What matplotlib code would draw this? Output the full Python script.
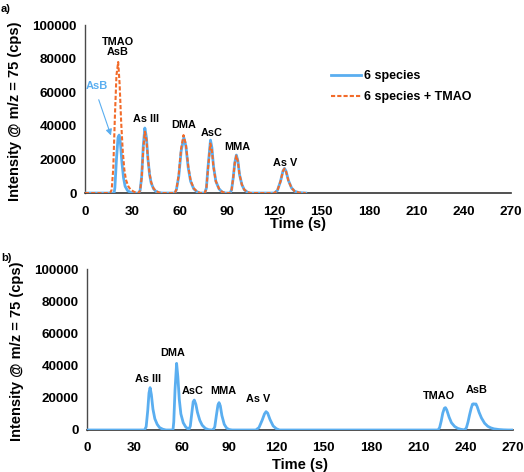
import matplotlib
matplotlib.use("Agg")
import matplotlib.pyplot as plt

plt.rcParams['font.family'] = ['Liberation Sans', 'DejaVu Sans']
plt.rcParams['font.weight'] = 'bold'

BLUE = '#5aaef0'
ORANGE = '#f26b2a'

# panel a) 6 species (time s, intensity cps)
a_blue_t = [0, 18.5, 19, 20, 21, 21.7, 22.5, 23.5, 24.5, 25.5, 27, 29, 31,
            34, 35, 36, 37, 38, 39, 40, 41, 42, 43.5, 45, 47, 49,
            57, 58, 59.5, 61, 62.7, 64, 65.5, 67, 69, 71, 73,
            76, 77, 78, 79.6, 80.5, 81.5, 83, 85, 87, 89,
            92, 93, 94, 95, 96, 97, 98, 99.5, 101, 103, 105,
            120, 122, 124, 125.5, 126.5, 127.5, 129, 131, 133, 136, 140]
a_blue_i = [0, 0, 3000, 20000, 33000, 34500, 30000, 18000, 9000, 4000, 1500, 300, 0,
            0, 1500, 10000, 28000, 38700, 33000, 20000, 11000, 6000, 2500, 1000, 200, 0,
            0, 2000, 10000, 25000, 33000, 28000, 15000, 7000, 2500, 800, 0,
            0, 3000, 15000, 31500, 27000, 16000, 7000, 2500, 600, 0,
            0, 2000, 9000, 18000, 22600, 19000, 11000, 5000, 2000, 500, 0,
            0, 1500, 7000, 13000, 14700, 13000, 7500, 3000, 1000, 200, 0]

# panel a) 6 species + TMAO
a_orng_t = [0, 16, 17, 18, 19, 20, 21.1, 22, 23, 24, 25, 26, 27.5, 29, 31, 33,
            34, 35, 36, 37, 38, 39, 40, 41, 42, 43.5, 45, 47, 49,
            57, 58, 59.5, 61, 62.5, 64, 65.5, 67, 69, 71, 73,
            76, 77, 78, 79.5, 80.5, 81.5, 83, 85, 87, 89,
            92, 93, 94, 95, 96, 97, 98, 99.5, 101, 103, 105,
            120, 122, 124, 125.5, 126.5, 127.5, 129, 131, 133, 136, 140]
a_orng_i = [0, 0, 2000, 15000, 45000, 70000, 78000, 65000, 42000, 25000, 14000, 8000, 4000, 2000, 800, 0,
            0, 1500, 9000, 26000, 36500, 32000, 20000, 11500, 6500, 2800, 1200, 300, 0,
            0, 2200, 11000, 26500, 34500, 29000, 16000, 7500, 2800, 900, 0,
            0, 2800, 14000, 29500, 25500, 15500, 7000, 2600, 700, 0,
            0, 2000, 9000, 18000, 22300, 18800, 11000, 5000, 2000, 500, 0,
            0, 1500, 7000, 13000, 14500, 12800, 7300, 3000, 1000, 200, 0]

# panel b) 6 species + TMAO, second method
b_t = [0, 36.5, 37.5, 38.5, 39.3, 40, 40.8, 41.8, 43, 44.5, 46, 48, 50,
       54.5, 55, 55.8, 56.8, 57.6, 58.5, 59.5, 61, 62.5, 64, 64.5,
       65.5, 66.5, 67.3, 68, 69, 70, 71.5, 73, 75, 77, 79,
       80, 81, 82, 83, 83.7, 84.5, 85.5, 87, 88.5, 90, 92,
       107, 109, 111, 112.5, 113.5, 114.5, 116, 118, 120, 122,
       222.5, 223.5, 224.5, 225.5, 226.5, 227.2, 228, 229.5, 231, 233, 235, 237, 239,
       239.5, 240.5, 241.5, 242.5, 243.5, 244.3, 245, 245.8, 246.5, 247.3, 248.5, 250,
       252, 254, 256, 258, 261, 264, 267, 270]
b_i = [0, 0, 2000, 12000, 23000, 26300, 22000, 13000, 7000, 3500, 1500, 500, 0,
       0, 5000, 25000, 41400, 33000, 19000, 10000, 4500, 2000, 600, 0,
       2500, 11000, 17500, 18600, 16000, 11000, 6000, 3000, 1000, 200, 0,
       0, 2000, 9000, 15500, 17000, 15000, 9000, 3500, 1200, 300, 0,
       0, 1500, 6000, 10000, 11400, 10500, 6500, 2500, 800, 0,
       0, 1500, 5500, 10500, 13500, 13900, 12500, 8000, 4500, 2200, 1000, 400, 100,
       0, 1500, 5000, 9500, 13500, 16000, 16300, 16000, 16200, 14500, 11000, 7500,
       4200, 2300, 1300, 700, 300, 100, 0, 0]

a_labels = ['TMAO\nAsB', 'As III', 'DMA', 'AsC', 'MMA', 'As V']
a_label_t = [20.9, 38.7, 62.7, 80.5, 96.3, 126.7]
a_label_i = [86900, 44000, 40500, 35700, 27400, 17900]

b_labels = ['As III', 'DMA', 'AsC', 'MMA', 'As V', 'TMAO', 'AsB']
b_label_t = [38.7, 54.5, 67.2, 86.2, 108.4, 223, 247]
b_label_i = [31900, 47800, 24200, 24200, 19300, 21100, 24800]

xticks = list(range(0, 271, 30))
yticks = list(range(0, 100001, 20000))


def style_axis(ax, xlabel_y, ylabel_y):
    ax.set_xlim(0, 270)
    ax.set_ylim(0, 100000)
    ax.set_xticks(xticks)
    ax.set_yticks(yticks)
    ax.tick_params(length=0, labelsize=9.7)
    ax.tick_params(axis='x', pad=9)
    ax.tick_params(axis='y', pad=6)
    for lab in ax.get_xticklabels() + ax.get_yticklabels():
        lab.set_fontweight('bold')
    ax.spines['top'].set_visible(False)
    ax.spines['right'].set_visible(False)
    ax.spines['left'].set_color('#4a4a4a')
    ax.spines['bottom'].set_color('#333333')
    ax.spines['left'].set_linewidth(1.0)
    ax.spines['bottom'].set_linewidth(1.2)
    ax.set_xlabel('Time (s)', fontsize=10.5, fontweight='bold')
    ax.set_ylabel('Intensity @ m/z = 75 (cps)', fontsize=10.5, fontweight='bold')
    ax.xaxis.set_label_coords(0.50, xlabel_y)
    ax.yaxis.set_label_coords(-0.148, ylabel_y)


fig = plt.figure(figsize=(5.24, 4.72), dpi=100)
ax1 = fig.add_axes([0.162, 0.591, 0.813, 0.356])
ax2 = fig.add_axes([0.166, 0.089, 0.813, 0.341])

# a)
ax1.plot(a_blue_t, a_blue_i, color=BLUE, lw=2.0, label='6 species', zorder=3)
ax1.plot(a_orng_t, a_orng_i, color=ORANGE, lw=1.5, ls=(0, (2, 1)), label='6 species + TMAO', zorder=4)
style_axis(ax1, -0.142, 0.485)
for name, t, i in zip(a_labels, a_label_t, a_label_i):
    ax1.text(t, i, name, ha='center', va='center', fontsize=7.8, fontweight='bold',
             linespacing=1.05)
ax1.text(7.6, 63700, 'AsB', color=BLUE, ha='center', va='center', fontsize=8, fontweight='bold')
ax1.annotate('', xy=(17.1, 32700), xytext=(8.2, 57100),
             arrowprops=dict(arrowstyle='-|>', color=BLUE, lw=0.8, mutation_scale=9))
ax1.legend(loc='upper left', bbox_to_anchor=(331 / 524, 1 - 70 / 472), bbox_transform=fig.transFigure,
           frameon=False, handlelength=2.4, handletextpad=0.2, labelspacing=0.75,
           borderpad=0, borderaxespad=0, prop={'weight': 'bold', 'size': 9})
fig.text(0.002, 1 - 9 / 472, 'a)', fontsize=8, fontweight='bold', va='center')

# b)
ax2.plot(b_t, b_i, color=BLUE, lw=2.0, zorder=3)
style_axis(ax2, -0.175, 0.49)
for name, t, i in zip(b_labels, b_label_t, b_label_i):
    ax2.text(t, i, name, ha='center', va='center', fontsize=7.8, fontweight='bold')
fig.text(0.002, 1 - 258 / 472, 'b)', fontsize=8, fontweight='bold', va='center')

fig.savefig('out.png', dpi=100)
